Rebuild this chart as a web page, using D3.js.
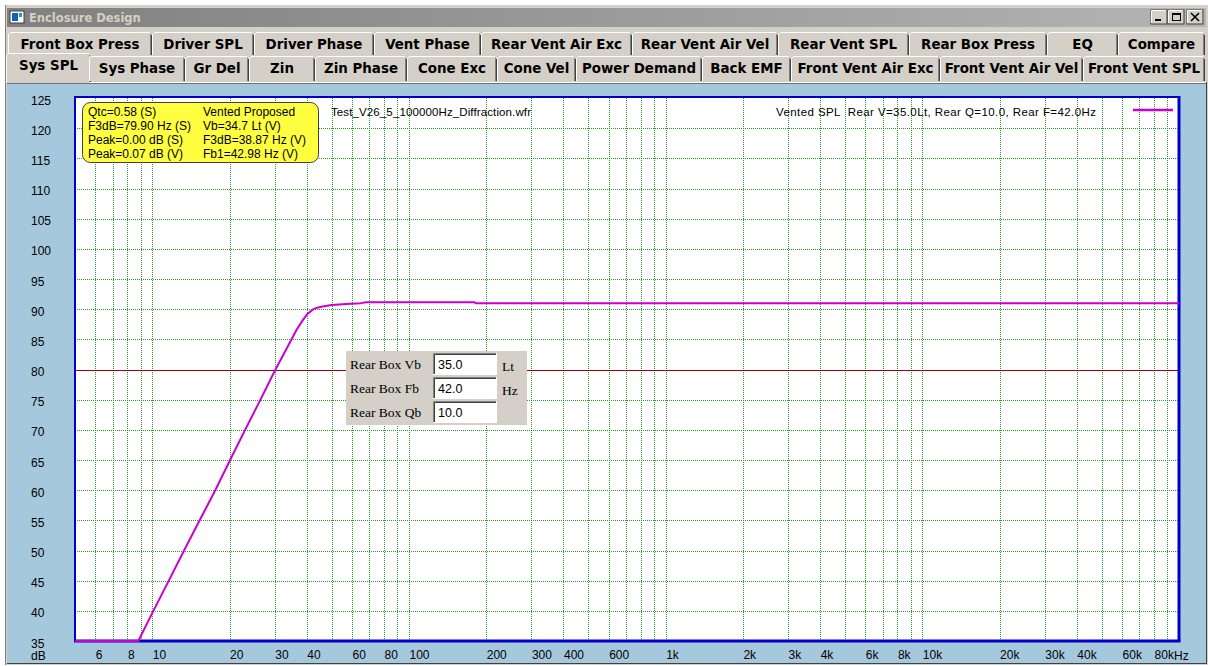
<!DOCTYPE html>
<html><head><meta charset="utf-8">
<script src="https://cdn.jsdelivr.net/npm/d3@7"></script>
<style>body{margin:0;background:#fff;overflow:hidden} svg{display:block}</style>
</head><body>
<svg id="c" width="1208" height="666"></svg>
<script>
// ---- data ----
const freqs = [5, 8.82, 10.1, 11.6, 13.3, 15.3, 17.6, 20.1, 23.0, 26.4, 30.2, 34.9, 36.5, 38.2, 40, 42.4, 44, 46, 50, 57, 65, 68, 180, 182, 100000];
const spl   = [35, 35, 40, 45, 50, 55, 60, 65, 70, 75, 80, 85, 86.6, 87.9, 89.1, 90, 90.25, 90.45, 90.7, 90.85, 91.0, 91.15, 91.15, 91.0, 91.0];
const refLevel = 80;
const yTickValues = [35,40,45,50,55,60,65,70,75,80,85,90,95,100,105,110,115,120,125];
const xTickValues = [6,8,10,20,30,40,60,80,100,200,300,400,600,1000,2000,3000,4000,6000,8000,10000,20000,30000,40000,60000,80000];
const xTickLabels = ["6","8","10","20","30","40","60","80","100","200","300","400","600","1k","2k","3k","4k","6k","8k","10k","20k","30k","40k","60k","80k"];
const infoCol1 = ["Qtc=0.58 (S)","F3dB=79.90 Hz (S)","Peak=0.00 dB (S)","Peak=0.07 dB (V)"];
const infoCol2 = ["Vented Proposed","Vb=34.7 Lt (V)","F3dB=38.87 Hz (V)","Fb1=42.98 Hz (V)"];
const fileName = "Test_V26_5_100000Hz_Diffraction.wfr";
const legendText = "Vented SPL  Rear V=35.0Lt, Rear Q=10.0, Rear F=42.0Hz";
const tabsRow1 = ["Front Box Press","Driver SPL","Driver Phase","Vent Phase","Rear Vent Air Exc","Rear Vent Air Vel","Rear Vent SPL","Rear Box Press","EQ","Compare"];
const tabsRow2 = ["Sys SPL","Sys Phase","Gr Del","Zin","Zin Phase","Cone Exc","Cone Vel","Power Demand","Back EMF","Front Vent Air Exc","Front Vent Air Vel","Front Vent SPL"];
const dlgLabels = ["Rear Box Vb","Rear Box Fb","Rear Box Qb"];
const dlgValues = ["35.0","42.0","10.0"];
const dlgUnits = ["Lt","Hz",""];

// ---- layout ----
const tabEdges1 = [8,152,254,374,481,632,778,909,1047,1118,1205];
const tabEdges2 = [8,89,185,249,315,407,497,576,702,791,940,1083,1205];
const svg = d3.select("#c");
const face = "#d4d0c8";

// window chrome
svg.append("rect").attr("x",0).attr("y",0).attr("width",1208).attr("height",666).attr("fill","#ffffff");
svg.append("rect").attr("x",5).attr("y",5).attr("width",1203).attr("height",660).attr("fill",face);
svg.append("line").attr("x1",5.5).attr("x2",5.5).attr("y1",5).attr("y2",665).attr("stroke","#808080");
const defs = svg.append("defs");
const g1 = defs.append("linearGradient").attr("id","tb");
g1.append("stop").attr("offset","0%").attr("stop-color","#808080");
g1.append("stop").attr("offset","100%").attr("stop-color","#b4b4b4");
svg.append("rect").attr("x",7).attr("y",8).attr("width",1199).attr("height",19).attr("fill","url(#tb)");
// icon
svg.append("rect").attr("x",10).attr("y",11).attr("width",14).attr("height",12).attr("fill","#ffffff").attr("stroke","#404040");
svg.append("rect").attr("x",12).attr("y",13).attr("width",6).attr("height",8).attr("fill","#1060c0");
svg.append("rect").attr("x",19).attr("y",13).attr("width",3).attr("height",4).attr("fill","#20a0a0");
svg.append("text").attr("x",29).attr("y",22).attr("font-family","DejaVu Sans, Verdana, sans-serif").attr("font-weight","bold").attr("font-size",11.5).attr("fill","#d4d0c8").text("Enclosure Design");
// title buttons
[1151,1168,1187].forEach((bx,i)=>{
  svg.append("rect").attr("x",bx).attr("y",10).attr("width",16).attr("height",14).attr("fill",face).attr("stroke","#404040").attr("stroke-width",1);
  svg.append("line").attr("x1",bx+0.5).attr("x2",bx+15).attr("y1",10.5).attr("y2",10.5).attr("stroke","#fff");
  svg.append("line").attr("x1",bx+0.5).attr("x2",bx+0.5).attr("y1",10.5).attr("y2",23).attr("stroke","#fff");
});
svg.append("rect").attr("x",1155).attr("y",19).attr("width",6).attr("height",2).attr("fill","#000");
svg.append("rect").attr("x",1172.5).attr("y",13.5).attr("width",8).attr("height",7).attr("fill","none").attr("stroke","#000");
svg.append("line").attr("x1",1172).attr("x2",1181).attr("y1",14.5).attr("y2",14.5).attr("stroke","#000");
svg.append("path").attr("d","M1191,13 L1199,21 M1199,13 L1191,21").attr("stroke","#000").attr("stroke-width",1.6);

// tabs
function drawTabs(names, edges, y0, h, selected){
  names.forEach((n,i)=>{
    let x0 = edges[i], x1 = edges[i+1];
    let yy = y0, hh = h;
    if(i===selected){ x0-=2; x1+=2; yy-=3; hh+=5; }
    const g = svg.append("g");
    g.append("rect").attr("x",x0).attr("y",yy).attr("width",x1-x0).attr("height",hh).attr("fill",face);
    g.append("path").attr("d",`M${x0+0.5},${yy+hh} L${x0+0.5},${yy+2.5} L${x0+2.5},${yy+0.5} L${x1-2},${yy+0.5}`).attr("fill","none").attr("stroke","#ffffff");
    g.append("path").attr("d",`M${x1-1.5},${yy+2} L${x1-1.5},${yy+hh}`).attr("fill","none").attr("stroke","#808080");
    g.append("path").attr("d",`M${x1-0.5},${yy+3} L${x1-0.5},${yy+hh}`).attr("fill","none").attr("stroke","#404040");
    g.append("text").attr("x",(x0+x1)/2).attr("y",yy+16.5).attr("text-anchor","middle")
      .attr("font-family","DejaVu Sans, Verdana, sans-serif").attr("font-weight","bold").attr("font-size",13.4).attr("fill","#000").text(n);
  });
}
drawTabs(tabsRow1, tabEdges1, 32, 23, -1);
drawTabs(tabsRow2, tabEdges2, 56, 25, 0);

// panel
svg.append("rect").attr("x",7).attr("y",82).attr("width",1199).attr("height",581).attr("fill","#a6c8dc");
svg.append("line").attr("x1",7).attr("x2",1206).attr("y1",82.5).attr("y2",82.5).attr("stroke","#ffffff");
svg.append("line").attr("x1",7).attr("x2",1206).attr("y1",83.5).attr("y2",83.5).attr("stroke","#707070");
svg.append("line").attr("x1",7).attr("x2",1206).attr("y1",663.5).attr("y2",663.5).attr("stroke","#404040");
svg.append("line").attr("x1",1206.5).attr("x2",1206.5).attr("y1",82).attr("y2",664).attr("stroke","#404040");
(function(){
  const x0=tabEdges2[0]-2, x1=tabEdges2[1]+2;
  svg.append("rect").attr("x",x0+1).attr("y",81).attr("width",x1-x0-3).attr("height",2).attr("fill",face);
})();

// ---- chart ----
const x = d3.scaleLog().domain([5,100000]).range([75,1179]);
const y = d3.scaleLinear().domain([35,125]).range([641,98]);
const plot = svg.append("g");
plot.append("rect").attr("x",x(5)).attr("y",y(125)).attr("width",x(100000)-x(5)).attr("height",y(35)-y(125)).attr("fill","#ffffff");

// grid
const gridX = [];
for(let k=0;k<5;k++) for(let m=1;m<10;m++){ const f=m*Math.pow(10,k); if(f>5 && f<100000) gridX.push(f); }
const gridY = yTickValues.filter(v=>v>35 && v<125);
const gridColor = "#2a9e2a";
plot.append("g").selectAll("line").data(gridX).join("line")
  .attr("x1",d=>Math.round(x(d))+0.5).attr("x2",d=>Math.round(x(d))+0.5)
  .attr("y1",y(125)).attr("y2",y(35))
  .attr("stroke",gridColor).attr("stroke-width",1).attr("stroke-dasharray","1,1").attr("shape-rendering","crispEdges");
plot.append("g").selectAll("line").data(gridY).join("line")
  .attr("x1",x(5)).attr("x2",x(100000))
  .attr("y1",d=>Math.round(y(d))+0.5).attr("y2",d=>Math.round(y(d))+0.5)
  .attr("stroke",gridColor).attr("stroke-width",1).attr("stroke-dasharray","1,1").attr("shape-rendering","crispEdges");

// reference line
plot.append("line").attr("x1",x(5)).attr("x2",x(100000)).attr("y1",Math.round(y(refLevel))+0.5).attr("y2",Math.round(y(refLevel))+0.5)
  .attr("stroke","#a00000").attr("stroke-width",1);

// border
plot.append("rect").attr("x",x(5)).attr("y",y(125)-1).attr("width",x(100000)-x(5)).attr("height",y(35)-y(125)+1)
  .attr("fill","none").attr("stroke","#0000c8").attr("stroke-width",2);
plot.append("line").attr("x1",x(5)-1).attr("x2",x(100000)+1.5).attr("y1",y(35)).attr("y2",y(35)).attr("stroke","#0000c8").attr("stroke-width",3);
plot.append("line").attr("x1",x(100000)).attr("x2",x(100000)).attr("y1",y(125)-2).attr("y2",y(35)).attr("stroke","#0000c8").attr("stroke-width",3);

// curve
const pts = freqs.map((f,i)=>[f,spl[i]]);
plot.append("path").datum(pts)
  .attr("d", d3.line().x(d=>x(d[0])).y(d=>y(d[1])))
  .attr("fill","none").attr("stroke","#cc00cc").attr("stroke-width",2).attr("stroke-linejoin","round");

// axes labels
const lblFont = "Liberation Sans, Arial, sans-serif";
const xAxis = d3.axisBottom(x).tickValues(xTickValues).tickFormat((d,i)=>xTickLabels[i]).tickSize(0);
const xa = svg.append("g").attr("transform",`translate(0,${y(35)+6})`).call(xAxis);
xa.select(".domain").remove();
xa.selectAll("text").attr("text-anchor","start").attr("font-family",lblFont).attr("font-size",12).attr("fill","#000").attr("dy","0.71em");
svg.append("text").attr("x",1174).attr("y",660).attr("font-family",lblFont).attr("font-size",12).text("Hz");

const yAxis = d3.axisLeft(y).tickValues(yTickValues).tickSize(0);
const ya = svg.append("g").attr("transform","translate(31,0)").call(yAxis);
ya.select(".domain").remove();
ya.selectAll("text").attr("text-anchor","start").attr("x",0).attr("dy","0.5em").attr("font-family",lblFont).attr("font-size",12).attr("fill","#000");
svg.append("text").attr("x",31).attr("y",660).attr("font-family",lblFont).attr("font-size",12).text("dB");

// info box
svg.append("rect").attr("x",82.5).attr("y",102.5).attr("width",236).attr("height",60).attr("rx",8).attr("ry",8)
  .attr("fill","#ffff40").attr("stroke","#404040").attr("stroke-width",1);
infoCol1.forEach((t,i)=>svg.append("text").attr("x",88).attr("y",116+i*14).attr("font-family",lblFont).attr("font-size",12).text(t));
infoCol2.forEach((t,i)=>svg.append("text").attr("x",203).attr("y",116+i*14).attr("font-family",lblFont).attr("font-size",12).text(t));

svg.append("text").attr("x",331).attr("y",116).attr("font-family",lblFont).attr("font-size",11.5).attr("textLength",200).text(fileName);
svg.append("text").attr("x",776).attr("y",116).attr("font-family",lblFont).attr("font-size",11.5).attr("textLength",320).style("white-space","pre").text(legendText);
svg.append("line").attr("x1",1133).attr("x2",1173).attr("y1",110).attr("y2",110).attr("stroke","#cc00cc").attr("stroke-width",2.5);

// dialog
const dg = svg.append("g");
dg.append("rect").attr("x",346).attr("y",351).attr("width",181).attr("height",74).attr("fill",face);
dlgLabels.forEach((t,i)=>{
  const ry = 353 + i*24;
  dg.append("text").attr("x",350).attr("y",ry+16).attr("font-family","Liberation Serif, Times New Roman, serif").attr("font-size",13.5).text(t);
  dg.append("rect").attr("x",433).attr("y",ry).attr("width",64).attr("height",22).attr("fill","#fff");
  dg.append("path").attr("d",`M${433.5},${ry+22} L${433.5},${ry+0.5} L${497},${ry+0.5}`).attr("fill","none").attr("stroke","#808080");
  dg.append("path").attr("d",`M${434.5},${ry+21} L${434.5},${ry+1.5} L${496},${ry+1.5}`).attr("fill","none").attr("stroke","#404040");
  dg.append("path").attr("d",`M${433},${ry+21.5} L${496.5},${ry+21.5} L${496.5},${ry}`).attr("fill","none").attr("stroke","#ffffff");
  dg.append("text").attr("x",438).attr("y",ry+16).attr("font-family",lblFont).attr("font-size",12.5).text(dlgValues[i]);
  if(dlgUnits[i]) dg.append("text").attr("x",502).attr("y",ry+18).attr("font-family","Liberation Serif, Times New Roman, serif").attr("font-size",13.5).text(dlgUnits[i]);
});
</script>
</body></html>
